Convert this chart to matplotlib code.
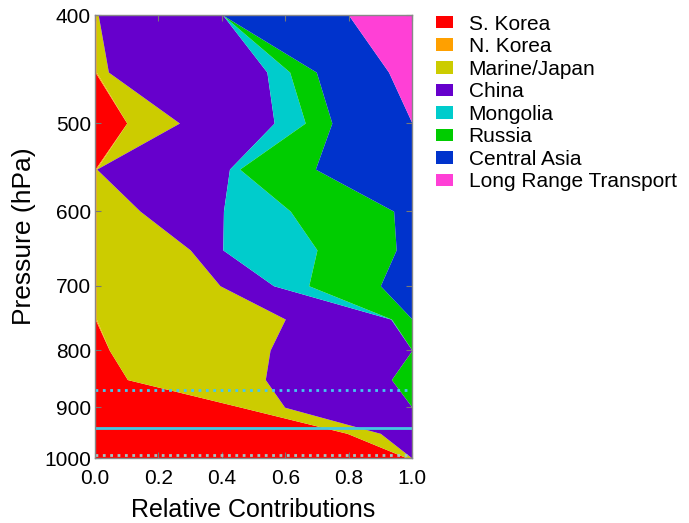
import numpy as np
import matplotlib
matplotlib.use("Agg")
import matplotlib.pyplot as plt
from matplotlib.patches import Patch
from matplotlib.ticker import FixedLocator, NullLocator, FixedFormatter

plt.rcParams["font.family"] = ["Liberation Sans", "DejaVu Sans"]

# pressure levels (hPa)
pressure = [400, 450, 500, 550, 600, 650, 700, 750, 800, 850, 900, 950, 1000]

# relative contribution of each source region at every level
s_korea = [0.000, 0.000, 0.100, 0.000, 0.000, 0.000, 0.000, 0.000, 0.045, 0.102, 0.460, 0.795, 0.985]
n_korea = [0.004, 0.004, 0.000, 0.004, 0.004, 0.004, 0.004, 0.004, 0.000, 0.000, 0.000, 0.000, 0.000]
marine_japan = [0.006, 0.038, 0.166, 0.001, 0.138, 0.296, 0.390, 0.596, 0.507, 0.435, 0.138, 0.105, 0.015]
china = [0.393, 0.500, 0.299, 0.419, 0.263, 0.103, 0.169, 0.333, 0.448, 0.398, 0.402, 0.100, 0.000]
mongolia = [0.000, 0.072, 0.098, 0.032, 0.211, 0.297, 0.111, 0.002, 0.000, 0.000, 0.000, 0.000, 0.000]
russia = [0.000, 0.084, 0.084, 0.239, 0.326, 0.250, 0.226, 0.065, 0.000, 0.065, 0.000, 0.000, 0.000]
central_asia = [0.397, 0.228, 0.253, 0.305, 0.058, 0.050, 0.100, 0.000, 0.000, 0.000, 0.000, 0.000, 0.000]
long_range = [0.200, 0.074, 0.000, 0.000, 0.000, 0.000, 0.000, 0.000, 0.000, 0.000, 0.000, 0.000, 0.000]

sources = ["S. Korea", "N. Korea", "Marine/Japan", "China", "Mongolia",
           "Russia", "Central Asia", "Long Range Transport"]
colors = ["#FF0000", "#FFA000", "#CCCC00", "#6600CC", "#00CCCC",
          "#00CC00", "#0033CC", "#FF40D6"]

# boundary layer markers (hPa)
pbl_levels = [868, 940, 994]
pbl_styles = [":", "-", ":"]
pbl_colors = ["#44C8F0", "#44C8E0", "#9CC8C8"]

fig = plt.figure(figsize=(6.89, 5.23), dpi=100)
ax = fig.add_axes([0.138, 0.124, 0.460, 0.847])

contrib = np.array([s_korea, n_korea, marine_japan, china, mongolia,
                    russia, central_asia, long_range])
cum = np.vstack([np.zeros(len(pressure)), np.cumsum(contrib, axis=0)])
cum = np.minimum(cum, 1.0)

for i, (name, col) in enumerate(zip(sources, colors)):
    ax.fill_betweenx(pressure, cum[i], cum[i + 1], color=col, lw=0)

for lev, ls, col in zip(pbl_levels, pbl_styles, pbl_colors):
    ax.axhline(lev, color=col, ls=ls, lw=2)

ax.set_yscale("log")
ax.set_ylim(1000, 400)
ax.set_xlim(0, 1)
yt = [400, 500, 600, 700, 800, 900, 1000]
ax.yaxis.set_major_locator(FixedLocator(yt))
ax.yaxis.set_major_formatter(FixedFormatter([str(v) for v in yt]))
ax.yaxis.set_minor_locator(NullLocator())
ax.set_xticks([0, 0.2, 0.4, 0.6, 0.8, 1.0])
ax.set_xticklabels(["0.0", "0.2", "0.4", "0.6", "0.8", "1.0"])
ax.tick_params(direction="in", top=True, right=True, labelsize=15,
               length=4, color="#777777")
ax.tick_params(axis="y", pad=3)
ax.tick_params(axis="x", pad=8)
for sp in ax.spines.values():
    sp.set_color("#888888")
    sp.set_linewidth(1)

ax.set_xlabel("Relative Contributions", fontsize=18, labelpad=7)
ax.set_ylabel("Pressure (hPa)", fontsize=19, labelpad=6)

handles = [Patch(facecolor=c, edgecolor="none") for c in colors]
fig.legend(handles, sources, loc="upper left", bbox_to_anchor=(0.612, 1.0),
           frameon=False, fontsize=15, handlelength=0.8, handleheight=0.55,
           handletextpad=0.75, labelspacing=0.17, borderpad=0.2)

fig.savefig("out.png", dpi=100)
